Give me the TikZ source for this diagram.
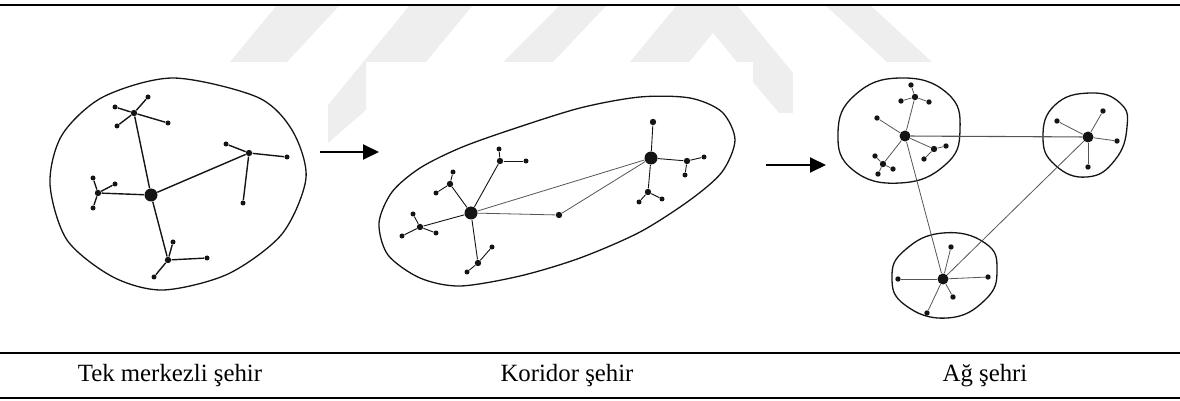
\documentclass[tikz,border=0pt]{standalone}
\usepackage{fontspec}
\setmainfont{Liberation Serif}
\usepackage{tikz}
\usetikzlibrary{arrows.meta, positioning}
\definecolor{markgray}{RGB}{238, 238, 238}
\definecolor{inkdark}{RGB}{20, 20, 20}
\definecolor{inkthin}{RGB}{85, 85, 85}

\tikzset{
  hub/.style={circle, fill=inkdark, inner sep=0pt, minimum size=6.5pt},
  subhub/.style={circle, fill=inkdark, inner sep=0pt, minimum size=3.2pt},
  leaf/.style={circle, fill=inkdark, inner sep=0pt, minimum size=2.5pt},
  link/.style={draw=inkdark, line width=0.7pt},
  fine/.style={draw=inkdark, line width=0.45pt},
  faint/.style={draw=inkthin, line width=0.4pt},
  blob/.style={draw=inkdark, line width=0.65pt},
  flow/.style={draw=black, line width=1pt, -{Triangle[length=8pt,width=7.5pt]}},
  caption/.style={font=\fontsize{12.4}{15}\selectfont, inner sep=0pt},
  wmark/.style={fill=markgray}
}

\begin{document}
\begin{tikzpicture}[x=0.5pt, y=-0.5pt]
\useasboundingbox (0,0) rectangle (1180,401);

% faint stripes in the background
\fill[wmark] (277,5) -- (340,5) -- (287,62) -- (230,62) -- cycle;
\fill[wmark] (410,5) -- (473,5) -- (426,62) -- (366,62) -- (366,110) -- (328,143) -- (328,105) -- cycle;
\fill[wmark] (560,5) -- (607,5) -- (553,62) -- (503,62) -- cycle;
\fill[wmark] (630,62) -- (677,5) -- (737,5) -- (784,62) -- (793,73) -- (793,113) -- (779,113)
  -- (753,82) -- (753,62) -- (737,62) -- (713,33) -- (689,62) -- cycle;
\fill[wmark] (825,5) -- (870,5) -- (932,62) -- (887,62) -- cycle;

% rules
\draw[line width=1pt] (0,5) -- (1180,5);
\draw[line width=1pt] (0,353) -- (1180,353);
\draw[line width=0.6pt] (0,398) -- (1180,398);

% single centre
\draw[blob] plot[smooth cycle] coordinates {(306,178) (292,130) (257,97) (173,78) (103,97)
  (62,135) (50,184) (67,240) (113,277) (163,290) (228,274) (282,234)};
\node[hub] (t0) at (151,195) {};
\foreach \n/\p in {t1/{134,113}, t2/{249,153}, t3/{98,193}, t4/{168,260}}
  {\node[subhub] (\n) at (\p) {}; \draw[link] (t0) -- (\n);}
\foreach \n/\m/\p in {t1a/t1/{115,107}, t1b/t1/{148,97}, t1c/t1/{117,126}, t1d/t1/{168,123},
    t2a/t2/{226,144}, t2b/t2/{287,157}, t2c/t2/{243,203},
    t3a/t3/{93,178}, t3b/t3/{115,184}, t3c/t3/{93,208},
    t4a/t4/{173,242}, t4b/t4/{207,258}, t4c/t4/{154,277}}
  {\node[leaf] (\n) at (\p) {}; \draw[link] (\m) -- (\n);}

\coordinate (go1) at (320,152);
\coordinate (to1) at (379,152);
\draw[flow] (go1) -- (to1);

% corridor
\draw[blob] plot[smooth cycle] coordinates {(379,223) (392,192) (420,168) (460,148) (510,130)
  (580,108) (640,97) (690,98) (722,112) (735,140) (722,172) (690,200) (640,232) (580,258)
  (520,276) (460,286) (420,278) (388,255)};
\node[hub] (k0) at (471,213) {};
\node[hub] (k9) at (651,158) {};
\node[subhub] (km) at (559,215) {};
\draw[faint] (k0) -- (k9);
\draw[faint] (k0) -- (km) -- (k9);
\foreach \n/\m/\p in {k1/k0/{500,161}, k2/k0/{450,184}, k3/k0/{420,227}, k4/k0/{478,263},
    k5/k9/{653,122}, k6/k9/{687,161}, k7/k9/{648,192}}
  {\node[subhub] (\n) at (\p) {}; \draw[fine] (\m) -- (\n);}
\foreach \n/\m/\p in {k1a/k1/{499,149}, k1b/k1/{526,161}, k2a/k2/{453,172}, k2b/k2/{436,193},
    k3a/k3/{413,214}, k3b/k3/{402,236}, k3c/k3/{436,233}, k4a/k4/{492,247}, k4b/k4/{467,272},
    k6a/k6/{704,157}, k6b/k6/{685,175}, k7a/k7/{639,202}, k7b/k7/{662,199}}
  {\node[leaf] (\n) at (\p) {}; \draw[fine] (\m) -- (\n);}

\coordinate (go2) at (766,165);
\coordinate (to2) at (826,165);
\draw[flow] (go2) -- (to2);

% network
\draw[blob] plot[smooth cycle, tension=0.8] coordinates {(838,133) (855,95) (900,78) (947,93)
  (960,130) (945,165) (900,183) (853,170)};
\draw[blob] plot[smooth cycle, tension=0.8] coordinates {(1043,137) (1055,105) (1090,93) (1120,103)
  (1127,127) (1115,160) (1087,177) (1055,165)};
\draw[blob] plot[smooth cycle, tension=0.8] coordinates {(892,277) (905,250) (943,233) (985,243)
  (997,270) (985,300) (947,318) (905,305)};
\node[hub, minimum size=5.5pt] (aA) at (905,136) {};
\node[hub, minimum size=5.5pt] (aB) at (1088,137) {};
\node[hub, minimum size=5.5pt] (aC) at (943,279) {};
\draw[fine, draw=inkthin, line width=0.55pt] (aA) -- (aB);
\draw[faint] (aA) -- (aC);
\draw[faint] (aB) -- (aC);
\foreach \n/\p in {a1/{915,97}, a3/{934,149}, a4/{883,164}}
  {\node[subhub] (\n) at (\p) {}; \draw[faint] (aA) -- (\n);}
\foreach \n/\m/\p in {a1a/a1/{911,85}, a1b/a1/{901,101}, a1c/a1/{929,102}, a2/aA/{877,118},
    a3a/a3/{946,146}, a3b/a3/{924,159}, a4a/a4/{875,156}, a4b/a4/{893,169}, a4c/a4/{878,174},
    b1/aB/{1103,111}, b2/aB/{1057,121}, b3/aB/{1117,141}, b4/aB/{1088,167},
    c1/aC/{898,279}, c2/aC/{988,277}, c3/aC/{951,247}, c4/aC/{953,297}, c5/aC/{927,313}}
  {\node[leaf, minimum size=2.7pt] (\n) at (\p) {}; \draw[faint] (\m) -- (\n);}

% captions
\node[caption] (cap1) at (170,376) {Tek merkezli şehir};
\node[caption] (cap2) at (567,376) {Koridor şehir};
\node[caption] (cap3) at (985,376) {Ağ şehri};
\end{tikzpicture}
\end{document}
